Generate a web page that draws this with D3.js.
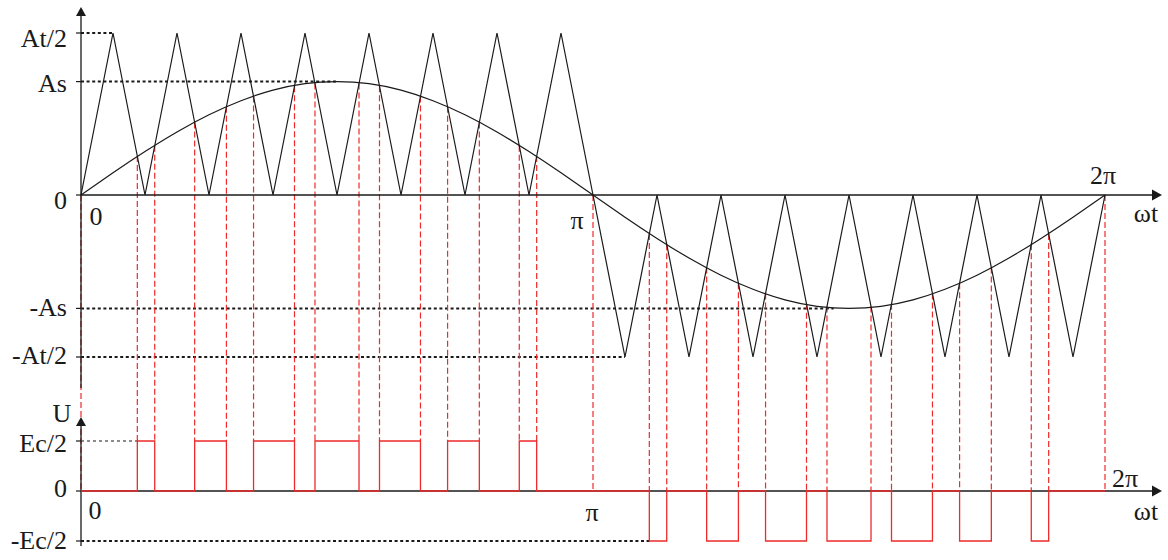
<!DOCTYPE html>
<html>
<head>
<meta charset="utf-8">
<script src="https://cdn.jsdelivr.net/npm/d3@7"></script>
<style>
html, body { margin: 0; padding: 0; background: #fff; }
svg { display: block; }
</style>
</head>
<body>
<script>
// ---------------- DATA ----------------
// Upper panel levels (in units of At/2)
const topTickLabels = ["At/2", "As", "0", "-As", "-At/2"];
const topTickValues = [1, 0.7, 0, -0.7, -1];
// where each dotted guide ends (ωt / π); 0 = no guide
const topGuideEnds = [0.0625, 0.5, 0, 1.47, 1.0625];

// Lower panel levels (in units of Ec/2)
const botTickLabels = ["Ec/2", "0", "-Ec/2"];
const botTickValues = [1, 0, -1];
const botGuideEnds = [0.110, 0, 1.110];

// Triangular carrier: vertex values, one every π/16
const carrierValues = [0, 1, 0, 1, 0, 1, 0, 1, 0, 1, 0, 1, 0, 1, 0, 1, 0,
                       -1, 0, -1, 0, -1, 0, -1, 0, -1, 0, -1, 0, -1, 0, -1, 0];

// Modulating sine wave (amplitude As), sampled every π/16
const sineValues = [0, 0.137, 0.268, 0.389, 0.495, 0.582, 0.647, 0.687, 0.700,
                    0.687, 0.647, 0.582, 0.495, 0.389, 0.268, 0.137, 0,
                    -0.137, -0.268, -0.389, -0.495, -0.582, -0.647, -0.687, -0.700,
                    -0.687, -0.647, -0.582, -0.495, -0.389, -0.268, -0.137, 0];

// Switching instants (ωt / π) where sine crosses carrier, and output level after each
const switchAngles = [0.110, 0.144, 0.222, 0.284, 0.337, 0.417, 0.457, 0.543, 0.583, 0.663, 0.716, 0.778, 0.856, 0.890,
                      1.110, 1.144, 1.222, 1.284, 1.337, 1.417, 1.457, 1.543, 1.583, 1.663, 1.716, 1.778, 1.856, 1.890];
const pulseLevels = [1, 0, 1, 0, 1, 0, 1, 0, 1, 0, 1, 0, 1, 0,
                     -1, 0, -1, 0, -1, 0, -1, 0, -1, 0, -1, 0, -1, 0];

// Axis marks on ωt
const markAngles = [0, 1, 2];

// ---------------- FONT PICK ----------------
function pickFont(cands) {
  const c = document.createElement("canvas").getContext("2d");
  const probe = "At/2 Ec/2 Asωπ 0123";
  const bases = ["monospace", "sans-serif"];
  for (const f of cands) {
    let found = false;
    for (const b of bases) {
      c.font = `26px ${b}`;
      const w0 = c.measureText(probe).width;
      c.font = `26px "${f}", ${b}`;
      const w1 = c.measureText(probe).width;
      if (Math.abs(w1 - w0) > 0.5) { found = true; break; }
    }
    if (found) return `"${f}"`;
  }
  return "serif";
}
const FONT = pickFont(["Liberation Serif", "Times New Roman", "Tinos", "Nimbus Roman", "DejaVu Serif", "Noto Serif"]) + ", serif";

// ---------------- DRAWING ----------------
const W = 1168, H = 560;
const RED = "#ee2a2a";
const INK = "#1a1a1a";

const svg = d3.select("body").append("svg")
  .attr("width", W).attr("height", H)
  .attr("viewBox", `0 0 ${W} ${H}`);

const x = d3.scaleLinear().domain([0, 2]).range([81, 1105]);
const yT = d3.scaleLinear().domain([-1, 1]).range([357, 33]);
const yB = d3.scaleLinear().domain([-1, 1]).range([541, 441]);

const step = 1 / 16;
const carrierPts = carrierValues.map((v, i) => [i * step, v]);
const sinePts = sineValues.map((v, i) => [i * step, v]);

function carrierAt(a) {
  const p = a / step;
  const i = Math.min(Math.floor(p), carrierValues.length - 2);
  const f = p - i;
  return carrierValues[i] * (1 - f) + carrierValues[i + 1] * f;
}
function levelAt(a) {
  let l = 0;
  switchAngles.forEach((s, i) => { if (s <= a) l = pulseLevels[i]; });
  return l;
}

const axisX0 = x(0);

// dotted guides – upper
topTickValues.forEach((v, i) => {
  if (!topGuideEnds[i]) return;
  svg.append("line")
    .attr("x1", axisX0).attr("x2", x(topGuideEnds[i]))
    .attr("y1", yT(v)).attr("y2", yT(v))
    .attr("stroke", INK).attr("stroke-width", 2)
    .attr("stroke-dasharray", "3,2.6");
});
// dotted guides – lower
botTickValues.forEach((v, i) => {
  if (!botGuideEnds[i]) return;
  svg.append("line")
    .attr("x1", axisX0).attr("x2", x(botGuideEnds[i]))
    .attr("y1", yB(v)).attr("y2", yB(v))
    .attr("stroke", INK).attr("stroke-width", v > 0 ? 1.1 : 2)
    .attr("stroke-dasharray", v > 0 ? "3,3" : "3,2.6");
});

// red dashed projection lines
const vertAngles = [...markAngles, ...switchAngles].sort((a, b) => a - b);
vertAngles.forEach(a => {
  const yStart = yT(carrierAt(a));
  const before = a > 0 ? levelAt(a - 1e-6) : 0;
  const after = levelAt(a + 1e-6);
  const yEnd = yB(Math.max(before, after));
  svg.append("line")
    .attr("x1", x(a)).attr("x2", x(a))
    .attr("y1", yStart).attr("y2", yEnd)
    .attr("stroke", RED).attr("stroke-width", 1.2)
    .attr("stroke-dasharray", "6,3");
});

// carrier
svg.append("path")
  .attr("d", d3.line().x(d => x(d[0])).y(d => yT(d[1]))(carrierPts))
  .attr("fill", "none").attr("stroke", INK).attr("stroke-width", 1.2)
  .attr("stroke-linejoin", "miter");

// sine
svg.append("path")
  .attr("d", d3.line().x(d => x(d[0])).y(d => yT(d[1])).curve(d3.curveNatural)(sinePts))
  .attr("fill", "none").attr("stroke", INK).attr("stroke-width", 1.2);

// axes (black)
const axisStroke = 1.3;
svg.append("line").attr("x1", axisX0).attr("x2", axisX0).attr("y1", 14).attr("y2", 388)
  .attr("stroke", INK).attr("stroke-width", axisStroke);
svg.append("line").attr("x1", axisX0).attr("x2", 1152).attr("y1", yT(0)).attr("y2", yT(0))
  .attr("stroke", INK).attr("stroke-width", axisStroke);
svg.append("line").attr("x1", axisX0).attr("x2", axisX0).attr("y1", 424).attr("y2", 546)
  .attr("stroke", INK).attr("stroke-width", axisStroke);
svg.append("line").attr("x1", axisX0).attr("x2", 1152).attr("y1", yB(0)).attr("y2", yB(0))
  .attr("stroke", INK).attr("stroke-width", axisStroke);

// arrowheads
function arrowUp(cx, tipY) {
  svg.append("path").attr("d", `M${cx},${tipY} L${cx - 5},${tipY + 9} L${cx + 5},${tipY + 9} Z`).attr("fill", INK);
}
function arrowRight(tipX, cy) {
  svg.append("path").attr("d", `M${tipX},${cy} L${tipX - 10},${cy - 5.5} L${tipX - 10},${cy + 5.5} Z`).attr("fill", INK);
}
arrowUp(axisX0, 7);
arrowUp(axisX0, 417);
arrowRight(1162, yT(0));
arrowRight(1162, yB(0));

// output pulse waveform
const pulsePts = [[0, 0], ...switchAngles.map((a, i) => [a, pulseLevels[i]]), [2, pulseLevels[pulseLevels.length - 1]]];
svg.append("path")
  .attr("d", d3.line().x(d => x(d[0])).y(d => yB(d[1])).curve(d3.curveStepAfter)(pulsePts))
  .attr("fill", "none").attr("stroke", RED).attr("stroke-width", 1.3);

// ticks
topTickValues.forEach(v => {
  svg.append("line").attr("x1", axisX0 - 5).attr("x2", axisX0).attr("y1", yT(v)).attr("y2", yT(v))
    .attr("stroke", INK).attr("stroke-width", 1.2);
});
botTickValues.forEach(v => {
  svg.append("line").attr("x1", axisX0 - 5).attr("x2", axisX0).attr("y1", yB(v)).attr("y2", yB(v))
    .attr("stroke", INK).attr("stroke-width", 1.2);
});

// text helper
function txt(s, tx, ty, anchor) {
  svg.append("text").attr("x", tx).attr("y", ty)
    .attr("text-anchor", anchor || "middle")
    .style("font-family", FONT).style("font-size", "26px")
    .attr("fill", INK).text(s);
}

// tick labels
const topLabelDy = [14, 10, 14, 8, 7];
topTickLabels.forEach((s, i) => txt(s, 67, yT(topTickValues[i]) + topLabelDy[i], "end"));
const botLabelDy = [11, 6, 8];
botTickLabels.forEach((s, i) => txt(s, 67, yB(botTickValues[i]) + botLabelDy[i], "end"));

// axis annotations
txt("0", x(0) + 15, yT(0) + 30);
txt("π", x(1) - 16, yT(0) + 34);
txt("2π", x(2) - 2, yT(0) - 11);
txt("ωt", x(2) + 41, yT(0) + 27);
txt("U", 62, 422);
txt("0", x(0) + 14, yB(0) + 28);
txt("π", x(1) - 1, yB(0) + 30);
txt("2π", x(2) + 20, yB(0) - 4);
txt("ωt", x(2) + 41, yB(0) + 29);
</script>
</body>
</html>
